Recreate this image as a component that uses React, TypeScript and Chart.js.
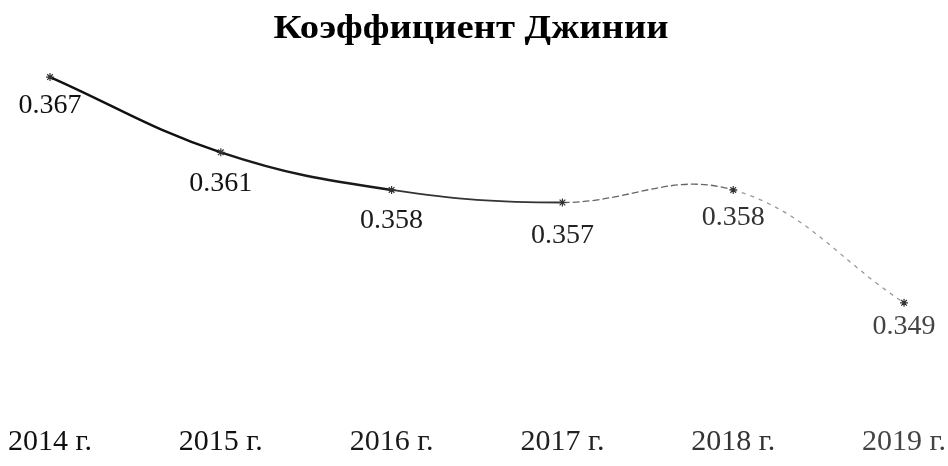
import React, { useEffect, useRef } from "react";
import { Chart, registerables } from "chart.js";

Chart.register(...registerables);

const categories = ["2014 г.", "2015 г.", "2016 г.", "2017 г.", "2018 г.", "2019 г."];
const giniValues = [0.367, 0.361, 0.358, 0.357, 0.358, 0.349];
const valueLabels = ["0.367", "0.361", "0.358", "0.357", "0.358", "0.349"];
const titleText = "Коэффициент Джинии";

const textColors = ["#111", "#111", "#1a1a1a", "#222", "#333", "#444"];
const segmentColors = ["#111", "#1a1a1a", "#333", "#666", "#999"];
const segmentDash = [[], [], [], [7, 3], [4, 5]];
const labelOffsets = [29, 31, 31, 33, 28, 24];

const SERIF = "'Liberation Serif', 'DejaVu Serif', serif";

const overlayPlugin = {
  id: "overlay",
  afterDatasetsDraw(chart: any) {
    const { ctx } = chart;
    const meta = chart.getDatasetMeta(0);
    ctx.save();
    ctx.font = `28px ${SERIF}`;
    ctx.textAlign = "center";
    ctx.textBaseline = "middle";
    meta.data.forEach((pt: any, i: number) => {
      ctx.fillStyle = textColors[i];
      ctx.fillText(valueLabels[i], pt.x, pt.y + labelOffsets[i]);
    });
    ctx.font = `bold 33px ${SERIF}`;
    ctx.fillStyle = "#000";
    ctx.textBaseline = "alphabetic";
    const w = ctx.measureText(titleText).width;
    const sx = 395 / w;
    ctx.translate(471, 38);
    ctx.scale(sx, 1);
    ctx.fillText(titleText, 0, 0);
    ctx.restore();
  },
};

export default function App() {
  const ref = useRef<HTMLCanvasElement>(null);
  useEffect(() => {
    document.body.style.margin = "0";
    const chart = new Chart(ref.current as HTMLCanvasElement, {
      type: "line",
      data: {
        labels: categories,
        datasets: [
          {
            data: giniValues,
            borderColor: "#111",
            borderWidth: 2.2,
            tension: 0.4,
            pointStyle: "star",
            pointRadius: 4,
            pointBorderWidth: 1.2,
            pointBorderColor: "#333",
            pointBackgroundColor: "#333",
            fill: false,
            segment: {
              borderColor: (c: any) => segmentColors[c.p0DataIndex],
              borderDash: (c: any) => segmentDash[c.p0DataIndex],
              borderWidth: (c: any) => (c.p0DataIndex < 2 ? 2.4 : c.p0DataIndex < 3 ? 1.8 : 1.3),
            },
          },
        ],
      },
      options: {
        animation: false,
        responsive: true,
        maintainAspectRatio: false,
        layout: { padding: { top: 52, bottom: 4, left: 50, right: 0 } },
        plugins: {
          legend: { display: false },
          tooltip: { enabled: false },
          title: { display: false },
        },
        scales: {
          x: {
            offset: false,
            grid: { display: false, drawTicks: false },
            border: { display: false },
            ticks: {
              font: { family: SERIF, size: 30 },
              color: (c: any) => textColors[c.index] || "#111",
              padding: 2,
              maxRotation: 0,
              autoSkip: false,
            },
          },
          y: {
            display: false,
            min: 0.3395,
            max: 0.369,
          },
        },
      },
      plugins: [overlayPlugin],
    });
    return () => chart.destroy();
  }, []);
  return (
    <div style={{ width: 948, height: 466, position: "relative", background: "#fff" }}>
      <canvas ref={ref} />
    </div>
  );
}
